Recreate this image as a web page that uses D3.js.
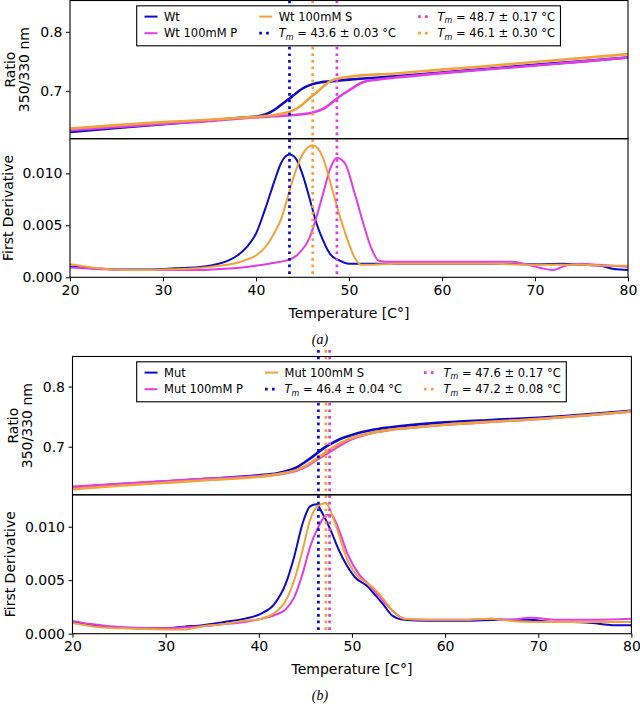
<!DOCTYPE html>
<html><head><meta charset="utf-8">
<script src="https://cdn.jsdelivr.net/npm/d3@7"></script>
<style>
body{margin:0;background:#fff}
svg{display:block}
text{font-family:"DejaVu Sans",sans-serif;fill:#000}
</style>
</head><body>
<svg id="c" width="640" height="704"></svg>
<script>
// ---------------- DATA ----------------
const xTicks = [20, 30, 40, 50, 60, 70, 80];
const ratioTicks = [0.7, 0.8];
const derivTicks = [0.000, 0.005, 0.010];

// Panel (a) – ratio 350/330 nm
const wtRatioT  = [20,25,30,35,38,40,41,42,43,43.6,44,45,46,47,48,50,55,60,65,70,75,80];
const wtRatioV  = [.6305,.637,.6435,.650,.654,.6565,.660,.668,.680,.687,.692,.704,.711,.7145,.716,.719,.7245,.731,.7375,.744,.750,.7566];
const wtPRatioT = [20,25,30,35,38,40,42,44,45,46,47,47.5,48,48.7,49.5,50,50.5,51,51.5,52,53,55,60,65,70,75,80];
const wtPRatioV = [.6335,.639,.644,.649,.653,.655,.657,.659,.6605,.663,.668,.672,.678,.687,.696,.701,.706,.711,.7145,.717,.719,.7225,.730,.7365,.743,.7495,.7566];
const wtSRatioT = [20,25,30,35,38,40,42,43,44,45,45.5,46.1,46.5,47,47.5,48,49,50,55,60,65,70,75,80];
const wtSRatioV = [.6362,.642,.647,.651,.654,.656,.659,.662,.667,.677,.684,.692,.697,.704,.711,.7165,.7215,.724,.7295,.736,.742,.749,.7555,.7622];

// Panel (a) – first derivative
const wtDerT  = [20,22,24,26,28,30,32,34,36,37,38,39,40,41,42,42.7,43.6,44.3,45,46,46.5,47,47.6,48,49,50,52,55,60,65,70,73,75,77,78.5,80];
const wtDerV  = [.00105,.0009,.0008,.00075,.00075,.0008,.0009,.001,.0013,.0016,.0021,.0029,.0042,.0066,.0093,.0110,.0118,.0114,.0099,.0068,.0052,.0040,.0028,.0022,.0016,.0013,.0013,.0013,.0013,.0013,.00125,.0013,.0012,.0011,.0008,.0007];
const wtPDerT = [20,23,26,30,34,36,38,40,42,43.2,44.5,45.8,46.5,47.2,48,48.7,49.6,50.6,51.5,52.4,53.2,54.1,56,60,65,67.5,68.8,70.6,71.9,73.2,75,76.8,80];
const wtPDerV = [.00095,.0008,.0007,.0007,.0007,.0008,.0009,.0011,.0014,.0016,.0022,.0039,.0058,.0080,.0105,.0115,.0109,.0081,.0053,.0028,.0016,.0015,.0015,.0015,.0015,.0015,.0013,.0009,.0007,.0011,.0013,.0012,.0010];
const wtSDerT = [20,22,24,26,28,30,32,34,36,38,39,40,41,42,42.7,43.5,44,45,46.1,47.2,48,48.9,49.8,50.6,51.3,52,55,60,65,70,75,78,80];
const wtSDerV = [.00125,.001,.0008,.0007,.0007,.00075,.0008,.0009,.0011,.0014,.0017,.0021,.0029,.0043,.0056,.0080,.0095,.0118,.0127,.0115,.0091,.0062,.0037,.0019,.0012,.0012,.0013,.0013,.0013,.0012,.0012,.0011,.0011];

// Panel (b) – ratio 350/330 nm
const mutRatioT  = [20,25,30,35,40,42,43,44,45,46,46.4,47,48,49,50,51,52,53,54,56,60,65,70,75,80];
const mutRatioV  = [.632,.6375,.642,.647,.6525,.656,.6595,.665,.675,.686,.691,.698,.707,.7145,.7195,.724,.7275,.730,.732,.7355,.7405,.7445,.748,.7535,.7597];
const mutPRatioT = [20,25,30,35,40,42,43,44,45,46,47,47.6,48.5,49.5,50.5,52,53,54,56,60,65,70,75,80];
const mutPRatioV = [.6333,.638,.6425,.647,.651,.654,.6565,.660,.6665,.676,.6855,.6915,.700,.709,.7155,.7225,.7255,.728,.731,.7365,.7415,.746,.752,.7585];
const mutSRatioT = [20,25,30,35,40,42,43,44,45,46,47.2,48,49,50,51,52,53,54,56,60,65,70,75,80];
const mutSRatioV = [.6295,.635,.640,.645,.650,.654,.657,.661,.668,.678,.6905,.699,.708,.7145,.719,.7225,.7255,.728,.731,.7365,.7415,.746,.752,.7585];

// Panel (b) – first derivative
const mutDerT  = [20,22,23.2,25.4,28,30,32,34,36.3,38.5,40.3,41.6,42.9,43.8,44.7,45.5,46.2,46.8,47.7,48.6,49.5,50.3,51.7,52.5,53.4,54.3,55.6,58,62,66,69,71.4,73.6,75.8,78,80];
const mutDerV  = [.0011,.0008,.00066,.00056,.0005,.0005,.00066,.0008,.0011,.0014,.0019,.0027,.0047,.0072,.0103,.0119,.0121,.0113,.0097,.0078,.0063,.0053,.0044,.0036,.0027,.0017,.0013,.0012,.0012,.0013,.0013,.0011,.0011,.0010,.0008,.0008];
const mutPDerT = [20,22,25.4,29.8,32,34,36.3,38.5,40.3,41.6,42.9,43.8,44.7,45.5,46.4,47.3,47.8,48.6,49.5,50.8,51.7,53,54.3,55.6,58,62,65,67,69.2,72,76,80];
const mutPDerV = [.0012,.0009,.0006,.0005,.0006,.0007,.0009,.0011,.0014,.0017,.0023,.0034,.0056,.0081,.0100,.0111,.0111,.0097,.0075,.0055,.0047,.0034,.0022,.0014,.0013,.0013,.0014,.0013,.0015,.0013,.0013,.0014];
const mutSDerT = [20,23,25.4,29.8,32,34,36.3,38.5,40.3,41.6,42.9,43.8,44.7,45.5,46.4,47.2,48.2,49.5,50.8,51.7,52.5,53.4,54.3,55.6,58,62,64.7,67,69.2,72,76,80];
const mutSDerV = [.0010,.0006,.0005,.0004,.0004,.0007,.0009,.0012,.0014,.0019,.0031,.0050,.0078,.0106,.0120,.0122,.0103,.0069,.0052,.0047,.0041,.0032,.0022,.0014,.0013,.0013,.0014,.0012,.0011,.0011,.0011,.0011];

// Melting temperatures
const tmA = [43.6, 48.7, 46.1];   // Wt, Wt P, Wt S
const tmB = [46.4, 47.6, 47.2];   // Mut, Mut P, Mut S
const legendA = ["Wt", "Wt 100mM P", "Wt 100mM S", "43.6 ± 0.03 °C", "48.7 ± 0.17 °C", "46.1 ± 0.30 °C"];
const legendB = ["Mut", "Mut 100mM P", "Mut 100mM S", "46.4 ± 0.04 °C", "47.6 ± 0.17 °C", "47.2 ± 0.08 °C"];
const panelLabels = ["(a)", "(b)"];

// ---------------- DRAWING ----------------
const C = {blue: "#0b0bc9", magenta: "#e23ce6", orange: "#f1a23a"};
const svg = d3.select("#c");
const zip = (t, v) => t.map((d, i) => [d, v[i]]);

const panels = [
  {left: 70, right: 628, tTop: 0.5, mid: 138.7, bot: 277.3, rDom: [0.619, 0.853], dDom: [0, 0.01333],
   ratio: [zip(wtRatioT, wtRatioV), zip(wtPRatioT, wtPRatioV), zip(wtSRatioT, wtSRatioV)],
   deriv: [zip(wtDerT, wtDerV), zip(wtPDerT, wtPDerV), zip(wtSDerT, wtSDerV)],
   tm: tmA, leg: legendA, label: panelLabels[0], labelY: 343.5},
  {left: 72.5, right: 631.4, tTop: 356.5, mid: 494.8, bot: 633.7, rDom: [0.62, 0.85], dDom: [0, 0.01298],
   ratio: [zip(mutRatioT, mutRatioV), zip(mutPRatioT, mutPRatioV), zip(mutSRatioT, mutSRatioV)],
   deriv: [zip(mutDerT, mutDerV), zip(mutPDerT, mutPDerV), zip(mutSDerT, mutSDerV)],
   tm: tmB, leg: legendB, label: panelLabels[1], labelY: 700}
];
const seriesColors = [C.blue, C.magenta, C.orange];

panels.forEach((p, pi) => {
  const g = svg.append("g");
  const x = d3.scaleLinear().domain([20, 80]).range([p.left, p.right]);
  const yR = d3.scaleLinear().domain(p.rDom).range([p.mid, p.tTop]);
  const yD = d3.scaleLinear().domain(p.dDom).range([p.bot, p.mid]);

  const clipR = "clipR" + pi, clipD = "clipD" + pi;
  const defs = g.append("defs");
  defs.append("clipPath").attr("id", clipR).append("rect")
    .attr("x", p.left).attr("y", p.tTop).attr("width", p.right - p.left).attr("height", p.mid - p.tTop);
  defs.append("clipPath").attr("id", clipD).append("rect")
    .attr("x", p.left).attr("y", p.mid).attr("width", p.right - p.left).attr("height", p.bot - p.mid);

  const lineR = d3.line().x(d => x(d[0])).y(d => yR(d[1])).curve(d3.curveMonotoneX);
  const lineD = d3.line().x(d => x(d[0])).y(d => yD(d[1])).curve(d3.curveMonotoneX);

  const gR = g.append("g").attr("clip-path", `url(#${clipR})`);
  p.ratio.forEach((s, i) => gR.append("path").attr("d", lineR(s)).attr("fill", "none")
    .attr("stroke", seriesColors[i]).attr("stroke-width", 2.6).attr("stroke-linejoin", "round"));
  const gD = g.append("g").attr("clip-path", `url(#${clipD})`);
  p.deriv.forEach((s, i) => gD.append("path").attr("d", lineD(s)).attr("fill", "none")
    .attr("stroke", seriesColors[i]).attr("stroke-width", 2).attr("stroke-linejoin", "round"));

  // Tm dotted lines spanning both axes
  p.tm.forEach((t, i) => g.append("line")
    .attr("x1", x(t)).attr("x2", x(t)).attr("y1", p.tTop - 6.5).attr("y2", p.bot)
    .attr("stroke", seriesColors[i]).attr("stroke-width", 2.7).attr("stroke-dasharray", "2.7,3.9"));

  // frames
  [[p.tTop, p.mid], [p.mid, p.bot]].forEach(([a, b]) => g.append("rect")
    .attr("x", p.left).attr("y", a).attr("width", p.right - p.left).attr("height", b - a)
    .attr("fill", "none").attr("stroke", "#000").attr("stroke-width", 1.1));

  // axes
  const styleAxis = sel => {
    sel.select(".domain").remove();
    sel.selectAll(".tick line").attr("stroke", "#000").attr("stroke-width", 1);
    sel.selectAll(".tick text").attr("font-size", 14).attr("font-family", "DejaVu Sans").attr("fill", "#000");
  };
  g.append("g").attr("transform", `translate(${p.left},0)`)
    .call(d3.axisLeft(yR).tickValues(ratioTicks).tickFormat(d3.format(".1f")).tickSize(4).tickPadding(3.5)).call(styleAxis);
  g.append("g").attr("transform", `translate(${p.left},0)`)
    .call(d3.axisLeft(yD).tickValues(derivTicks).tickFormat(d3.format(".3f")).tickSize(4).tickPadding(3.5)).call(styleAxis);
  g.append("g").attr("transform", `translate(0,${p.bot})`)
    .call(d3.axisBottom(x).tickValues(xTicks).tickFormat(d3.format("d")).tickSize(4).tickPadding(3.5)).call(styleAxis);

  // axis labels
  const rc = (p.tTop + p.mid) / 2, dc = (p.mid + p.bot) / 2;
  g.append("text").attr("transform", `translate(${p.left - 55},${rc}) rotate(-90)`)
    .attr("text-anchor", "middle").attr("font-size", 14).text("Ratio");
  g.append("text").attr("transform", `translate(${p.left - 41},${rc}) rotate(-90)`)
    .attr("text-anchor", "middle").attr("font-size", 14).text("350/330 nm");
  g.append("text").attr("transform", `translate(${p.left - 57.3},${dc}) rotate(-90)`)
    .attr("text-anchor", "middle").attr("font-size", 14).text("First Derivative");
  g.append("text").attr("x", (p.left + p.right) / 2).attr("y", p.bot + 40.5)
    .attr("text-anchor", "middle").attr("font-size", 14).text("Temperature [C°]");
  g.append("text").attr("x", 320).attr("y", p.labelY).attr("text-anchor", "middle")
    .style("font-family", "'Liberation Serif', serif").style("font-style", "italic").attr("font-size", 14).text(p.label);

  // legend (matplotlib column-major: col1 = s0,s1 ; col2 = s2, tm0 ; col3 = tm1, tm2)
  const entries = [
    {kind: "line", color: C.blue, label: p.leg[0]},
    {kind: "line", color: C.magenta, label: p.leg[1]},
    {kind: "line", color: C.orange, label: p.leg[2]},
    {kind: "dot", color: C.blue, label: p.leg[3]},
    {kind: "dot", color: C.magenta, label: p.leg[4]},
    {kind: "dot", color: C.orange, label: p.leg[5]}
  ];
  const lx = 136.7, ly = p.tTop + 5.3, lh = 40;
  const lg = g.append("g");
  const box = lg.append("rect").attr("x", lx).attr("y", ly).attr("height", lh)
    .attr("fill", "#fff").attr("stroke", "#000").attr("stroke-width", 1.1);
  let colX = lx + 7.8;
  let lastW = 0;
  for (let c = 0; c < 3; c++) {
    let maxW = 0;
    for (let r = 0; r < 2; r++) {
      const e = entries[c * 2 + r];
      const cy = ly + 10.8 + r * 16.6;
      const hl = lg.append("line").attr("x1", colX).attr("x2", colX + 13).attr("y1", cy).attr("y2", cy)
        .attr("stroke", e.color);
      if (e.kind === "line") hl.attr("stroke-width", 2);
      else hl.attr("stroke-width", 2.7).attr("stroke-dasharray", "2.7,4.2");
      const t = lg.append("text").attr("x", colX + 19.5).attr("y", cy + 4.1).attr("font-size", 11.5);
      if (e.kind === "line") t.text(e.label);
      else {
        t.append("tspan").style("font-style", "italic").text("T");
        t.append("tspan").style("font-style", "italic").attr("font-size", 8).attr("dy", 2.6).text("m");
        t.append("tspan").attr("dy", -2.6).text(" = " + e.label);
      }
      maxW = Math.max(maxW, t.node().getComputedTextLength());
    }
    lastW = maxW;
    if (c < 2) colX = colX + 19.5 + maxW + 22;
  }
  box.attr("width", colX + 19.5 + lastW + 5.5 - lx);
});
</script>
</body></html>
